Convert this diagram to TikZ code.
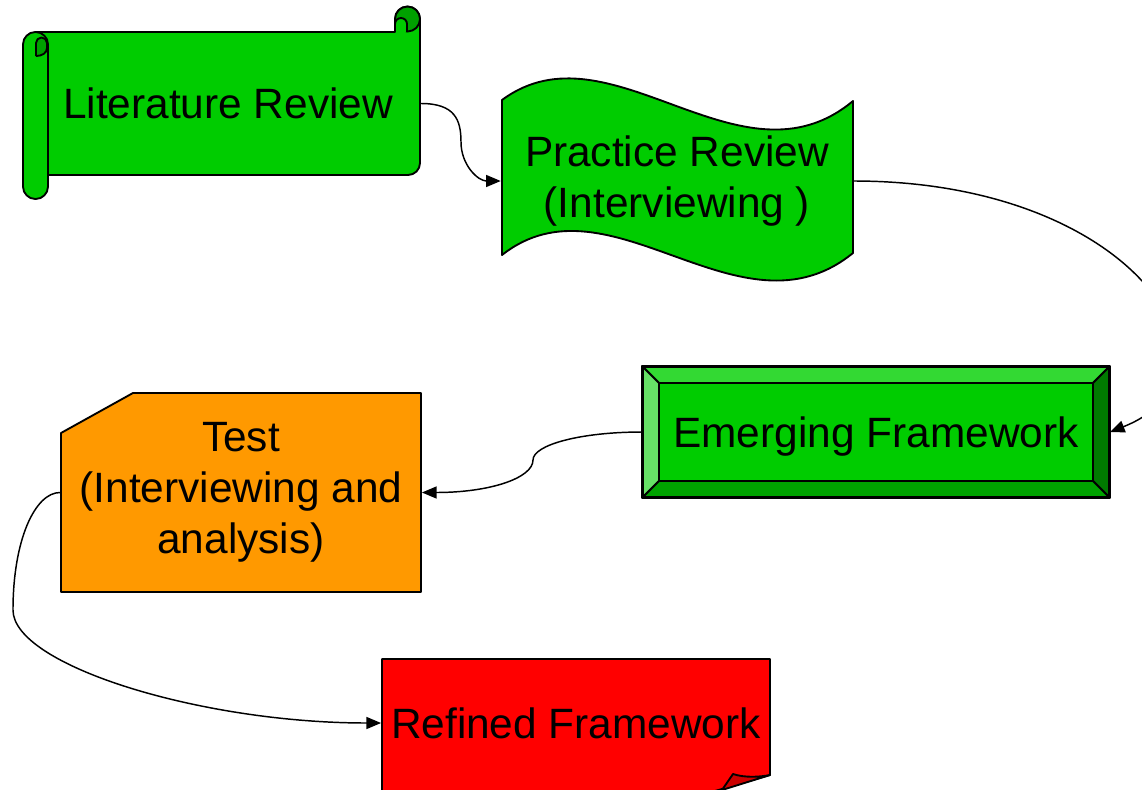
\documentclass[tikz,border=0pt]{standalone}
\usepackage{fontspec}
\setmainfont{Liberation Sans}
\usetikzlibrary{arrows.meta}
\definecolor{leaf}{RGB}{0,204,0}
\definecolor{leafdark}{RGB}{0,160,0}
\definecolor{bevtop}{RGB}{51,217,51}
\definecolor{bevleft}{RGB}{102,224,102}
\definecolor{bevright}{RGB}{0,122,0}
\definecolor{bevbottom}{RGB}{0,163,0}
\definecolor{testorange}{RGB}{255,153,0}
\definecolor{flapred}{RGB}{204,0,0}
\begin{document}
\begin{tikzpicture}[x=0.75pt,y=-0.75pt,line width=1.4pt,line join=round,
    >={Triangle[length=11pt,width=9pt]},
    every node/.style={font=\fontsize{31.8}{38.3}\selectfont,align=center,inner sep=0pt},
    oneline/.style={text height=22.8pt,text depth=0pt},
    link/.style={->,line width=1.1pt},
    leafshape/.style={fill=leaf,draw=black}]
    \useasboundingbox (0,0) rectangle (1142,789);
    \clip (0,0) rectangle (1142,789);

    % scroll
    \filldraw[leafshape] (36,32) -- (395,32) -- (395,19) arc[start angle=180,end angle=360,radius=12.5]
        -- (420,163) arc[start angle=0,end angle=90,radius=12] -- (48,175) -- cycle;
    \filldraw[fill=leafdark] (407.5,19) circle (12.5);
    \filldraw[leafshape] (395,32) -- (395,24) arc[start angle=180,end angle=360,radius=6] -- (407,32);
    \filldraw[leafshape,rounded corners=9.3pt] (23,32) rectangle (48,199);
    \filldraw[fill=leafdark] (36,56) -- (36,43) arc[start angle=180,end angle=360,radius=5.5]
        -- (47,48) .. controls (47,53) and (42,56) .. (36,56);
    \node[oneline,minimum width=288pt,minimum height=107pt] (lit) at (228,103.5) {Literature Review};

    % wave
    \filldraw[leafshape] (502,100) .. controls (610,20) and (740,195) .. (853,101)
        -- (853,253) .. controls (740,345) and (610,170) .. (502,255) -- cycle;
    \node[minimum width=263pt,minimum height=110pt] (prac) at (677,181) {Practice Review\\(Interviewing )};

    % bevel
    \node[leafshape,oneline,minimum width=349.5pt,minimum height=97.5pt] (emerg) at (876,432) {Emerging Framework};
    \filldraw[fill=bevtop] (643,367) -- (1109,367) -- (1093,383) -- (659,383) -- cycle;
    \filldraw[fill=bevleft] (643,367) -- (659,383) -- (659,481) -- (643,497) -- cycle;
    \filldraw[fill=bevright] (1109,367) -- (1109,497) -- (1093,481) -- (1093,383) -- cycle;
    \filldraw[fill=bevbottom] (643,497) -- (659,481) -- (1093,481) -- (1109,497) -- cycle;
    \draw (emerg.north west) rectangle (emerg.south east);

    % snipped box
    \filldraw[fill=testorange] (133,393) -- (421,393) -- (421,592) -- (61,592) -- (61,433) -- cycle;
    \node[minimum width=270pt,minimum height=149pt] (test) at (241,492.5) {Test\\(Interviewing and\\analysis)};

    % folded note
    \filldraw[fill=red] (382,659) -- (770,659) -- (770,775) -- (684,800) -- (382,800) -- cycle;
    \filldraw[fill=flapred] (733,774) .. controls (745,778) and (760,777) .. (770,775) -- (722,790) -- cycle;
    \node[oneline,minimum width=291pt,minimum height=97.5pt] (refined) at (576,723) {Refined Framework};

    % connectors
    \draw[link] (lit.east) .. controls (455,103.5) and (461,120) .. (461,142)
        .. controls (461,165) and (478,181) .. (prac.west);
    \draw[link] (prac.east) .. controls (1140,181) and (1255,375) .. (emerg.east);
    \draw[link] (emerg.west) .. controls (580,432) and (533,445) .. (533,460)
        .. controls (533,478) and (490,492.5) .. (test.east);
    \draw[link] (test.west) .. controls (35,492.5) and (13,540) .. (13,610)
        .. controls (13,665) and (200,723) .. (refined.west);
\end{tikzpicture}
\end{document}
